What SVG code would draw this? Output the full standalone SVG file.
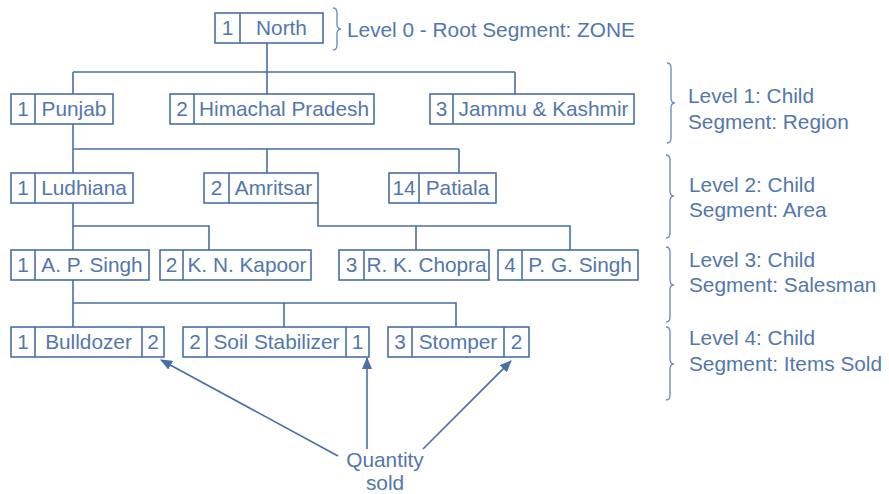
<svg xmlns="http://www.w3.org/2000/svg" width="889" height="494" viewBox="0 0 889 494">
<defs>
<style>
.box{fill:#fff;stroke:#4a6fa5;stroke-width:1.6}
.ln{fill:none;stroke:#4a6fa5;stroke-width:1.6}
.br{fill:none;stroke:#6f8fbf;stroke-width:1.4}
text{font-family:"Liberation Sans",Arial,sans-serif;font-size:20.8px;fill:#5377ab}
.c{text-anchor:middle}
</style>
<marker id="ah" viewBox="0 0 12 10" refX="11" refY="5" markerWidth="12" markerHeight="10" markerUnits="userSpaceOnUse" orient="auto">
<path d="M0,0 L12,5 L0,10 Z" fill="#4a6fa5"/>
</marker>
</defs>
<rect width="889" height="494" fill="#fff"/>
<g id="connectors">
<path class="ln" d="M267,43 V94 M73,72 H515 M73,72 V94 M515,72 V94"/>
<path class="ln" d="M73,124 V173 M73,149 H459 M267,149 V173 M459,149 V173"/>
<path class="ln" d="M73,203 V250 M73,226 H209 V250"/>
<path class="ln" d="M318,203 V226 H570 V250 M416,226 V250"/>
<path class="ln" d="M73,280 V327 M73,303 H456 V327 M284,303 V327"/>
<path class="ln" d="M338,456 L161,360" marker-end="url(#ah)"/>
<path class="ln" d="M367,449 V358" marker-end="url(#ah)"/>
<path class="ln" d="M423,449 L511,361" marker-end="url(#ah)"/>
</g>
<g id="n-north"><rect class="box" x="215" y="13" width="108" height="30"/><path class="ln" d="M240,13 V43"/><text class="c" x="227.5" y="35">1</text><text class="c" x="281.5" y="35">North</text></g>
<g id="n-punjab"><rect class="box" x="11" y="94" width="102" height="30"/><path class="ln" d="M35,94 V124"/><text class="c" x="23" y="116">1</text><text class="c" x="74" y="116">Punjab</text></g>
<g id="n-himachal"><rect class="box" x="170" y="94" width="204" height="30"/><path class="ln" d="M194,94 V124"/><text class="c" x="182" y="116">2</text><text class="c" x="284" y="116">Himachal Pradesh</text></g>
<g id="n-jammu"><rect class="box" x="430" y="94" width="204" height="30"/><path class="ln" d="M453,94 V124"/><text class="c" x="441.5" y="116">3</text><text class="c" x="543.5" y="116">Jammu &amp; Kashmir</text></g>
<g id="n-ludhiana"><rect class="box" x="11" y="173" width="122" height="30"/><path class="ln" d="M35,173 V203"/><text class="c" x="23" y="195">1</text><text class="c" x="84" y="195">Ludhiana</text></g>
<g id="n-amritsar"><rect class="box" x="204" y="173" width="114" height="30"/><path class="ln" d="M229,173 V203"/><text class="c" x="216.5" y="195">2</text><text class="c" x="273.5" y="195">Amritsar</text></g>
<g id="n-patiala"><rect class="box" x="389" y="173" width="107" height="30"/><path class="ln" d="M419,173 V203"/><text class="c" x="404" y="195">14</text><text class="c" x="457.5" y="195">Patiala</text></g>
<g id="n-apsingh"><rect class="box" x="11" y="250" width="138" height="30"/><path class="ln" d="M35,250 V280"/><text class="c" x="23" y="272">1</text><text class="c" x="92" y="272">A. P. Singh</text></g>
<g id="n-kapoor"><rect class="box" x="160" y="250" width="151" height="30"/><path class="ln" d="M183,250 V280"/><text class="c" x="171.5" y="272">2</text><text class="c" x="247" y="272">K. N. Kapoor</text></g>
<g id="n-chopra"><rect class="box" x="339" y="250" width="150" height="30"/><path class="ln" d="M364,250 V280"/><text class="c" x="351.5" y="272">3</text><text class="c" x="426.5" y="272">R. K. Chopra</text></g>
<g id="n-pgsingh"><rect class="box" x="498" y="250" width="140" height="30"/><path class="ln" d="M522,250 V280"/><text class="c" x="510" y="272">4</text><text class="c" x="580" y="272">P. G. Singh</text></g>
<g id="n-bulldozer"><rect class="box" x="11" y="327" width="153" height="30"/><path class="ln" d="M35,327 V357 M142,327 V357"/><text class="c" x="23" y="349">1</text><text class="c" x="88.5" y="349">Bulldozer</text><text class="c" x="153" y="349">2</text></g>
<g id="n-soil"><rect class="box" x="183" y="327" width="186" height="30"/><path class="ln" d="M207,327 V357 M346,327 V357"/><text class="c" x="195" y="349">2</text><text class="c" x="276.5" y="349">Soil Stabilizer</text><text class="c" x="357.5" y="349">1</text></g>
<g id="n-stomper"><rect class="box" x="388" y="327" width="141" height="30"/><path class="ln" d="M412,327 V357 M504,327 V357"/><text class="c" x="400" y="349">3</text><text class="c" x="458" y="349">Stomper</text><text class="c" x="516.5" y="349">2</text></g>
<g id="labels">
<path class="br" d="M333,8 Q337,8 337,13 V24 Q337,29 341,29 Q337,29 337,34 V45 Q337,50 333,50"/>
<text x="347" y="37">Level 0 - Root Segment: ZONE</text>
<path class="br" d="M667,63 Q671,63 671,68 V98 Q671,103 675,103 Q671,103 671,108 V138 Q671,143 667,143"/>
<text x="688" y="103">Level 1: Child</text><text x="688" y="129">Segment: Region</text>
<path class="br" d="M666,155 Q670,155 670,160 V191 Q670,196 674,196 Q670,196 670,201 V233 Q670,238 666,238"/>
<text x="689" y="192">Level 2: Child</text><text x="689" y="217">Segment: Area</text>
<path class="br" d="M666,247 Q670,247 670,252 V280 Q670,285 674,285 Q670,285 670,290 V317 Q670,322 666,322"/>
<text x="689" y="267">Level 3: Child</text><text x="689" y="292">Segment: Salesman</text>
<path class="br" d="M666,327 Q670,327 670,332 V359 Q670,364 674,364 Q670,364 670,369 V395 Q670,400 666,400"/>
<text x="689" y="345">Level 4: Child</text><text x="689" y="371">Segment: Items Sold</text>
<text class="c" x="385" y="467">Quantity</text><text class="c" x="385" y="490">sold</text>
</g>
</svg>
